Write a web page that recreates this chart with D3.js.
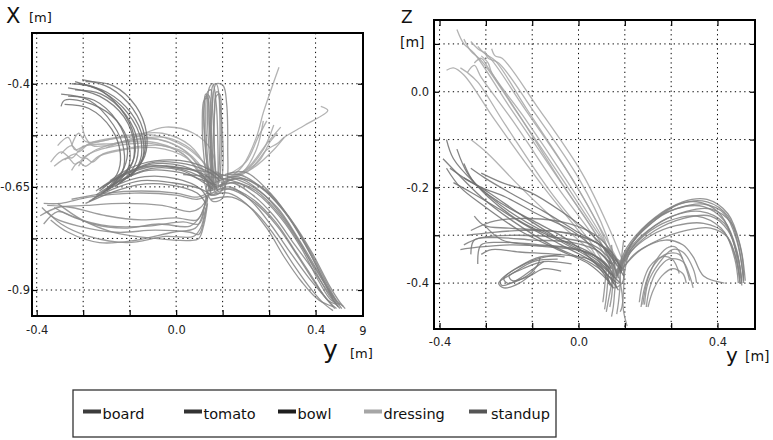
<!DOCTYPE html>
<html>
<head>
<meta charset="utf-8">
<script src="https://cdn.jsdelivr.net/npm/d3@7"></script>
<style>
  body { margin: 0; background: #fff; }
  svg { display: block; font-family: "DejaVu Sans", sans-serif; }
  .grid line { stroke: #000; stroke-width: 1; stroke-dasharray: 1.3, 3.4; }
  .axis path { display: none; }
  .axis line { stroke: #000; stroke-width: 1.2; }
  .axis text { font-size: 11.5px; fill: #222; font-family: "DejaVu Sans", sans-serif; }
  .traj { fill: none; stroke-width: 1.3; stroke-linejoin: round; }
</style>
</head>
<body>
<div id="chart"></div>
<script>
//////////////////////////////////////////////////////////////////
////////////////////////////  Data  //////////////////////////////
const categories = ["board", "tomato", "bowl", "dressing", "standup"];
const legendColors = ["#3c3c3c", "#333333", "#1e1e1e", "#a6a6a6", "#555555"];
const lineColors = ["#6e6e6e", "#787878", "#828282", "#a6a6a6", "#8a8a8a"];

// left panel: [y, x] in metres
const yGridXY = [-0.4, -0.2667, -0.1333, 0, 0.1333, 0.2667, 0.4];
const yLabelsXY = ["-0.4", "", "", "0.0", "", "", "0.4"];
const xGridXY = [-0.4, -0.525, -0.65, -0.775, -0.9];
const xLabelsXY = ["-0.4", "", "-0.65", "", "-0.9"];

// right panel: [y, z] in metres
const yGridZY = [-0.4, -0.2667, -0.1333, 0, 0.1333, 0.2667, 0.4];
const yLabelsZY = ["-0.4", "", "", "0.0", "", "", "0.4"];
const zGridZY = [0.1, 0, -0.1, -0.2, -0.3, -0.4];
const zLabelsZY = ["", "0.0", "", "-0.2", "", "-0.4"];

const boardXY = [
  [[-0.31,-0.41],[-0.22,-0.43],[-0.15,-0.48],[-0.12,-0.55],[-0.13,-0.60],[-0.19,-0.65]],
  [[-0.29,-0.395],[-0.21,-0.42],[-0.14,-0.47],[-0.10,-0.54],[-0.11,-0.60],[-0.17,-0.645]],
  [[-0.33,-0.455],[-0.32,-0.44],[-0.24,-0.45],[-0.17,-0.49],[-0.135,-0.55],[-0.14,-0.61],[-0.20,-0.66]],
  [[-0.28,-0.40],[-0.20,-0.42],[-0.13,-0.47],[-0.095,-0.535],[-0.10,-0.59],[-0.16,-0.64]],
  [[-0.33,-0.425],[-0.25,-0.44],[-0.18,-0.50],[-0.15,-0.56],[-0.155,-0.615],[-0.21,-0.665]],
  [[-0.30,-0.40],[-0.23,-0.41],[-0.16,-0.46],[-0.12,-0.53],[-0.125,-0.59],[-0.18,-0.64]],
  [[-0.32,-0.45],[-0.25,-0.46],[-0.185,-0.51],[-0.16,-0.57],[-0.17,-0.62],[-0.22,-0.66]],
  [[-0.27,-0.39],[-0.19,-0.41],[-0.125,-0.46],[-0.09,-0.53],[-0.095,-0.58],[-0.14,-0.63]],
  [[-0.31,-0.43],[-0.235,-0.44],[-0.17,-0.49],[-0.14,-0.555],[-0.15,-0.605],[-0.20,-0.655]],
  [[-0.29,-0.415],[-0.215,-0.425],[-0.145,-0.475],[-0.11,-0.545],[-0.12,-0.60],[-0.175,-0.65]],
  [[-0.26,-0.395],[-0.18,-0.405],[-0.115,-0.455],[-0.085,-0.52],[-0.09,-0.575],[-0.13,-0.625]],
];

const tomatoXY = [
  [[-0.23,-0.67],[-0.16,-0.635],[-0.08,-0.61],[0.01,-0.615],[0.08,-0.635],[0.115,-0.645]],
  [[-0.22,-0.655],[-0.15,-0.62],[-0.07,-0.595],[0.02,-0.60],[0.085,-0.63],[0.10,-0.665]],
  [[-0.24,-0.68],[-0.17,-0.645],[-0.09,-0.625],[0.00,-0.63],[0.07,-0.655],[0.09,-0.68]],
  [[-0.20,-0.645],[-0.14,-0.615],[-0.06,-0.59],[0.03,-0.595],[0.095,-0.615],[0.125,-0.635]],
  [[-0.25,-0.685],[-0.18,-0.655],[-0.10,-0.635],[-0.01,-0.64],[0.07,-0.655],[0.10,-0.67]],
  [[-0.215,-0.665],[-0.15,-0.63],[-0.07,-0.605],[0.015,-0.61],[0.08,-0.64],[0.105,-0.655]],
  [[-0.19,-0.635],[-0.12,-0.60],[-0.04,-0.585],[0.04,-0.59],[0.10,-0.61],[0.13,-0.63]],
  [[-0.23,-0.66],[-0.165,-0.625],[-0.085,-0.60],[0.005,-0.605],[0.08,-0.63],[0.11,-0.65]],
  [[-0.26,-0.69],[-0.19,-0.665],[-0.11,-0.645],[-0.02,-0.645],[0.06,-0.665],[0.085,-0.69]],
  [[-0.21,-0.65],[-0.145,-0.62],[-0.065,-0.60],[0.025,-0.605],[0.09,-0.625],[0.12,-0.66]],
];

const bowlXY = [
  [[0.10,-0.655],[0.16,-0.64],[0.22,-0.67],[0.28,-0.72],[0.34,-0.79],[0.40,-0.86],[0.44,-0.91],[0.465,-0.94]],
  [[0.11,-0.64],[0.17,-0.625],[0.24,-0.65],[0.31,-0.71],[0.37,-0.79],[0.42,-0.87],[0.45,-0.915],[0.475,-0.945]],
  [[0.085,-0.675],[0.15,-0.65],[0.21,-0.68],[0.27,-0.74],[0.32,-0.80],[0.38,-0.87],[0.43,-0.92],[0.455,-0.945]],
  [[0.12,-0.625],[0.18,-0.62],[0.25,-0.655],[0.32,-0.72],[0.38,-0.80],[0.43,-0.88],[0.46,-0.925],[0.48,-0.94]],
  [[0.10,-0.67],[0.15,-0.665],[0.20,-0.69],[0.26,-0.75],[0.31,-0.82],[0.36,-0.88],[0.41,-0.925],[0.45,-0.94]],
  [[0.13,-0.64],[0.19,-0.63],[0.26,-0.66],[0.33,-0.73],[0.39,-0.81],[0.44,-0.89],[0.47,-0.93],[0.485,-0.945]],
  [[0.09,-0.66],[0.15,-0.655],[0.22,-0.685],[0.29,-0.745],[0.35,-0.82],[0.40,-0.885],[0.44,-0.93],[0.46,-0.945]],
  [[0.11,-0.655],[0.17,-0.64],[0.23,-0.665],[0.30,-0.725],[0.36,-0.80],[0.41,-0.88],[0.445,-0.925],[0.47,-0.935]],
  [[0.14,-0.62],[0.20,-0.615],[0.27,-0.665],[0.34,-0.745],[0.39,-0.82],[0.43,-0.89],[0.455,-0.93],[0.47,-0.945]],
  [[0.10,-0.68],[0.16,-0.675],[0.22,-0.705],[0.28,-0.765],[0.33,-0.83],[0.38,-0.89],[0.42,-0.93],[0.45,-0.95]],
  [[0.12,-0.65],[0.18,-0.63],[0.24,-0.66],[0.30,-0.715],[0.355,-0.785],[0.40,-0.855],[0.44,-0.915],[0.465,-0.94]],
  [[0.11,-0.665],[0.16,-0.655],[0.22,-0.68],[0.285,-0.735],[0.345,-0.81],[0.395,-0.875],[0.435,-0.925],[0.46,-0.935]],
  [[0.02,-0.62],[0.09,-0.625],[0.16,-0.635],[0.23,-0.66],[0.30,-0.72],[0.36,-0.795],[0.415,-0.87],[0.46,-0.93]],
  [[-0.03,-0.60],[0.06,-0.61],[0.15,-0.625],[0.22,-0.65],[0.29,-0.70],[0.35,-0.775],[0.41,-0.86],[0.45,-0.92]],
];

const dressingXY = [
  [[-0.36,-0.59],[-0.33,-0.565],[-0.30,-0.58],[-0.27,-0.555],[-0.19,-0.535],[-0.08,-0.53],[0.02,-0.56],[0.08,-0.615],[0.105,-0.64]],
  [[-0.33,-0.57],[-0.30,-0.55],[-0.28,-0.565],[-0.25,-0.545],[-0.17,-0.53],[-0.06,-0.525],[0.03,-0.555],[0.09,-0.60],[0.115,-0.625]],
  [[-0.30,-0.55],[-0.28,-0.52],[-0.26,-0.54],[-0.22,-0.54],[-0.14,-0.525],[-0.04,-0.52],[0.04,-0.55],[0.09,-0.61],[0.105,-0.65]],
  [[-0.35,-0.60],[-0.31,-0.58],[-0.29,-0.595],[-0.25,-0.57],[-0.17,-0.55],[-0.07,-0.545],[0.02,-0.57],[0.075,-0.63],[0.09,-0.665]],
  [[-0.27,-0.50],[-0.26,-0.53],[-0.24,-0.55],[-0.20,-0.55],[-0.12,-0.535],[-0.03,-0.53],[0.045,-0.56],[0.095,-0.61],[0.12,-0.64]],
  [[-0.32,-0.585],[-0.29,-0.57],[-0.27,-0.58],[-0.23,-0.56],[-0.15,-0.54],[-0.05,-0.535],[0.03,-0.565],[0.085,-0.62],[0.095,-0.655]],
  [[-0.28,-0.60],[-0.26,-0.58],[-0.24,-0.59],[-0.21,-0.57],[-0.13,-0.555],[-0.04,-0.55],[0.04,-0.575],[0.085,-0.635],[0.10,-0.67]],
  [[-0.20,-0.555],[-0.12,-0.53],[-0.03,-0.505],[0.05,-0.52],[0.10,-0.56],[0.115,-0.62]],
  [[-0.34,-0.55],[-0.31,-0.53],[-0.29,-0.56],[-0.26,-0.55],[-0.18,-0.545],[-0.08,-0.54],[0.01,-0.565],[0.075,-0.62],[0.10,-0.655]],
  [[-0.30,-0.61],[-0.28,-0.59],[-0.26,-0.60],[-0.22,-0.575],[-0.15,-0.56],[-0.06,-0.555],[0.03,-0.58],[0.08,-0.63],[0.11,-0.645]],
  [[0.14,-0.63],[0.19,-0.615],[0.23,-0.56],[0.25,-0.49]],
  [[0.15,-0.625],[0.20,-0.61],[0.25,-0.56],[0.28,-0.50]],
  [[0.16,-0.63],[0.21,-0.60],[0.26,-0.545],[0.30,-0.505]],
  [[0.15,-0.62],[0.20,-0.59],[0.235,-0.53],[0.26,-0.49]],
  [[0.17,-0.625],[0.22,-0.605],[0.28,-0.56],[0.31,-0.53]],
  [[0.15,-0.63],[0.19,-0.60],[0.23,-0.53],[0.25,-0.47],[0.27,-0.42],[0.295,-0.36]],
  [[0.16,-0.625],[0.22,-0.60],[0.26,-0.56],[0.29,-0.545],[0.31,-0.53],[0.37,-0.50],[0.435,-0.465],[0.415,-0.455]],
  [[0.14,-0.635],[0.19,-0.62],[0.24,-0.585],[0.27,-0.54],[0.29,-0.52]],
];

const standupXY = [
  [[0.10,-0.66],[0.09,-0.58],[0.085,-0.48],[0.09,-0.42],[0.10,-0.415],[0.105,-0.47],[0.11,-0.57],[0.115,-0.65]],
  [[0.105,-0.655],[0.095,-0.57],[0.09,-0.47],[0.095,-0.41],[0.105,-0.40],[0.115,-0.45],[0.12,-0.56],[0.12,-0.645]],
  [[0.095,-0.66],[0.08,-0.58],[0.075,-0.49],[0.08,-0.44],[0.09,-0.435],[0.095,-0.49],[0.10,-0.58],[0.105,-0.65]],
  [[0.11,-0.65],[0.10,-0.56],[0.10,-0.46],[0.105,-0.405],[0.115,-0.40],[0.125,-0.44],[0.13,-0.55],[0.125,-0.64]],
  [[0.10,-0.65],[0.085,-0.57],[0.08,-0.45],[0.085,-0.425],[0.095,-0.43],[0.10,-0.50],[0.105,-0.60],[0.11,-0.655]],
  [[0.105,-0.66],[0.10,-0.55],[0.105,-0.44],[0.115,-0.40],[0.135,-0.405],[0.145,-0.45],[0.148,-0.56],[0.145,-0.64],[0.13,-0.66]],
  [[0.11,-0.66],[0.105,-0.58],[0.11,-0.47],[0.115,-0.42],[0.12,-0.42],[0.125,-0.47],[0.125,-0.57],[0.12,-0.65]],
  [[0.095,-0.65],[0.085,-0.56],[0.08,-0.46],[0.085,-0.43],[0.09,-0.43],[0.095,-0.50],[0.10,-0.60],[0.10,-0.66]],
  [[0.115,-0.655],[0.11,-0.57],[0.11,-0.47],[0.115,-0.43],[0.125,-0.425],[0.13,-0.48],[0.135,-0.58],[0.13,-0.65]],
  [[0.08,-0.64],[0.09,-0.62],[0.12,-0.615],[0.135,-0.635],[0.125,-0.665],[0.10,-0.67],[0.085,-0.655],[0.095,-0.635]],
  [[0.11,-0.62],[0.13,-0.625],[0.14,-0.65],[0.13,-0.68],[0.105,-0.685],[0.09,-0.665],[0.10,-0.64]],
  [[-0.385,-0.70],[-0.35,-0.725],[-0.28,-0.745],[-0.17,-0.76],[-0.06,-0.755],[0.04,-0.76],[0.065,-0.765],[0.08,-0.73],[0.09,-0.68]],
  [[-0.37,-0.71],[-0.33,-0.74],[-0.25,-0.77],[-0.14,-0.785],[-0.03,-0.77],[0.05,-0.77],[0.07,-0.75],[0.085,-0.70]],
  [[-0.38,-0.69],[-0.33,-0.69],[-0.25,-0.675],[-0.12,-0.665],[0.00,-0.67],[0.06,-0.68],[0.09,-0.67]],
  [[-0.36,-0.73],[-0.31,-0.76],[-0.22,-0.785],[-0.12,-0.78],[-0.01,-0.76],[0.055,-0.75],[0.075,-0.72],[0.085,-0.675]],
  [[-0.39,-0.72],[-0.34,-0.70],[-0.26,-0.695],[-0.15,-0.69],[-0.04,-0.695],[0.04,-0.71],[0.07,-0.70],[0.09,-0.675]],
  [[-0.37,-0.695],[-0.30,-0.70],[-0.20,-0.72],[-0.10,-0.73],[0.00,-0.725],[0.06,-0.73],[0.08,-0.70],[0.095,-0.665]],
  [[-0.35,-0.70],[-0.29,-0.725],[-0.19,-0.745],[-0.08,-0.745],[0.02,-0.735],[0.065,-0.74],[0.08,-0.71]],
  [[-0.38,-0.74],[-0.34,-0.71],[-0.30,-0.72],[-0.24,-0.74],[-0.15,-0.75],[-0.05,-0.74],[0.04,-0.745],[0.07,-0.72],[0.085,-0.685]],
  [[-0.34,-0.69],[-0.27,-0.73],[-0.18,-0.76],[-0.06,-0.775],[0.04,-0.78],[0.065,-0.775],[0.08,-0.74],[0.09,-0.69]],
  [[-0.30,-0.68],[-0.20,-0.665],[-0.10,-0.66],[0.00,-0.665],[0.06,-0.675],[0.09,-0.665]],
];

const boardZY = [
  [[-0.38,-0.10],[-0.36,-0.14],[-0.30,-0.19],[-0.20,-0.25],[-0.08,-0.30],[0.03,-0.335],[0.09,-0.37]],
  [[-0.37,-0.16],[-0.33,-0.18],[-0.26,-0.21],[-0.16,-0.26],[-0.05,-0.31],[0.05,-0.35],[0.10,-0.385]],
  [[-0.35,-0.12],[-0.32,-0.17],[-0.26,-0.22],[-0.17,-0.27],[-0.06,-0.31],[0.05,-0.355],[0.12,-0.40]],
  [[-0.33,-0.15],[-0.30,-0.19],[-0.23,-0.23],[-0.13,-0.27],[-0.03,-0.31],[0.05,-0.36],[0.10,-0.41]],
  [[-0.38,-0.16],[-0.34,-0.20],[-0.27,-0.24],[-0.17,-0.29],[-0.06,-0.33],[0.03,-0.36],[0.085,-0.395]],
  [[-0.31,-0.16],[-0.27,-0.18],[-0.20,-0.21],[-0.10,-0.25],[-0.01,-0.29],[0.08,-0.33],[0.125,-0.37]],
  [[-0.36,-0.19],[-0.31,-0.21],[-0.24,-0.24],[-0.15,-0.28],[-0.05,-0.32],[0.06,-0.365],[0.115,-0.415]],
  [[-0.33,-0.18],[-0.28,-0.20],[-0.21,-0.22],[-0.12,-0.255],[-0.02,-0.29],[0.05,-0.33],[0.095,-0.36]],
  [[-0.39,-0.14],[-0.35,-0.17],[-0.28,-0.22],[-0.19,-0.27],[-0.08,-0.32],[0.04,-0.36],[0.11,-0.40]],
  [[-0.28,-0.17],[-0.22,-0.19],[-0.14,-0.21],[-0.05,-0.25],[0.04,-0.30],[0.095,-0.345],[0.13,-0.385]],
];

const tomatoZY = [
  [[-0.33,-0.32],[-0.28,-0.305],[-0.18,-0.30],[-0.06,-0.305],[0.04,-0.32],[0.09,-0.35],[0.115,-0.39]],
  [[-0.31,-0.34],[-0.30,-0.31],[-0.24,-0.305],[-0.13,-0.31],[-0.02,-0.315],[0.06,-0.335],[0.095,-0.37]],
  [[-0.29,-0.36],[-0.28,-0.32],[-0.22,-0.315],[-0.11,-0.32],[0.00,-0.33],[0.07,-0.355],[0.10,-0.40]],
  [[-0.32,-0.30],[-0.26,-0.295],[-0.16,-0.29],[-0.04,-0.295],[0.05,-0.315],[0.10,-0.34],[0.125,-0.375]],
  [[-0.30,-0.26],[-0.27,-0.28],[-0.20,-0.285],[-0.10,-0.29],[0.00,-0.30],[0.07,-0.325],[0.105,-0.36]],
  [[-0.34,-0.33],[-0.29,-0.325],[-0.19,-0.32],[-0.08,-0.325],[0.02,-0.335],[0.08,-0.36],[0.11,-0.41]],
  [[-0.28,-0.34],[-0.25,-0.33],[-0.17,-0.335],[-0.06,-0.34],[0.03,-0.35],[0.075,-0.375],[0.09,-0.405]],
  [[-0.31,-0.29],[-0.24,-0.27],[-0.14,-0.265],[-0.03,-0.275],[0.05,-0.30],[0.095,-0.335],[0.12,-0.37]],
  [[-0.27,-0.28],[-0.22,-0.31],[-0.14,-0.32],[-0.04,-0.325],[0.04,-0.34],[0.085,-0.365],[0.105,-0.39]],
  [[-0.05,-0.34],[-0.12,-0.35],[-0.18,-0.37],[-0.225,-0.395],[-0.22,-0.405],[-0.18,-0.395],[-0.13,-0.37],[-0.10,-0.355]],
  [[-0.04,-0.345],[-0.11,-0.345],[-0.17,-0.365],[-0.215,-0.39],[-0.205,-0.40],[-0.16,-0.39],[-0.12,-0.365],[-0.11,-0.345]],
  [[-0.06,-0.35],[-0.13,-0.355],[-0.19,-0.38],[-0.23,-0.40],[-0.215,-0.41],[-0.17,-0.40],[-0.125,-0.375]],
  [[-0.02,-0.36],[-0.10,-0.355],[-0.16,-0.37],[-0.20,-0.385],[-0.19,-0.395],[-0.14,-0.385],[-0.10,-0.37],[-0.05,-0.375]],
];

const bowlZY = [
  [[0.11,-0.38],[0.14,-0.33],[0.20,-0.28],[0.28,-0.245],[0.36,-0.24],[0.42,-0.27],[0.455,-0.33],[0.47,-0.40]],
  [[0.115,-0.375],[0.15,-0.32],[0.21,-0.275],[0.29,-0.235],[0.37,-0.23],[0.43,-0.26],[0.46,-0.32],[0.475,-0.395]],
  [[0.11,-0.385],[0.14,-0.34],[0.19,-0.30],[0.26,-0.27],[0.34,-0.26],[0.41,-0.285],[0.45,-0.34],[0.465,-0.40]],
  [[0.12,-0.37],[0.16,-0.31],[0.22,-0.265],[0.30,-0.23],[0.37,-0.225],[0.43,-0.255],[0.465,-0.32],[0.48,-0.395]],
  [[0.11,-0.38],[0.145,-0.33],[0.20,-0.29],[0.27,-0.26],[0.35,-0.25],[0.42,-0.275],[0.455,-0.335],[0.47,-0.395]],
  [[0.115,-0.38],[0.15,-0.335],[0.21,-0.30],[0.28,-0.28],[0.36,-0.275],[0.42,-0.295],[0.45,-0.35],[0.46,-0.40]],
  [[0.11,-0.375],[0.14,-0.325],[0.20,-0.275],[0.27,-0.24],[0.34,-0.23],[0.40,-0.25],[0.44,-0.30],[0.465,-0.39]],
  [[0.12,-0.38],[0.155,-0.33],[0.22,-0.29],[0.30,-0.265],[0.38,-0.26],[0.43,-0.29],[0.46,-0.35],[0.47,-0.405]],
  [[0.11,-0.385],[0.15,-0.33],[0.22,-0.28],[0.31,-0.25],[0.38,-0.245],[0.44,-0.275],[0.47,-0.34],[0.475,-0.40]],
  [[0.115,-0.38],[0.15,-0.32],[0.21,-0.27],[0.28,-0.245],[0.36,-0.235],[0.42,-0.255],[0.455,-0.31],[0.475,-0.39]],
  [[0.12,-0.38],[0.16,-0.34],[0.23,-0.31],[0.31,-0.29],[0.38,-0.285],[0.43,-0.305],[0.455,-0.355],[0.465,-0.40]],
  [[0.12,-0.375],[0.18,-0.33],[0.25,-0.31],[0.30,-0.32],[0.33,-0.345],[0.36,-0.385],[0.42,-0.40]],
];

const dressingZY = [
  [[-0.35,0.13],[-0.33,0.10],[-0.30,0.08],[-0.20,-0.03],[-0.05,-0.19],[0.06,-0.31],[0.10,-0.37]],
  [[-0.31,0.105],[-0.29,0.09],[-0.26,0.075],[-0.16,-0.03],[-0.02,-0.18],[0.07,-0.295],[0.115,-0.355]],
  [[-0.27,0.085],[-0.26,0.07],[-0.23,0.06],[-0.13,-0.04],[0.00,-0.18],[0.08,-0.30],[0.11,-0.38]],
  [[-0.38,0.045],[-0.36,0.05],[-0.33,0.035],[-0.24,-0.06],[-0.10,-0.20],[0.03,-0.32],[0.085,-0.39]],
  [[-0.32,0.04],[-0.30,0.055],[-0.28,0.03],[-0.19,-0.06],[-0.06,-0.20],[0.05,-0.31],[0.10,-0.375]],
  [[-0.33,0.11],[-0.31,0.085],[-0.28,0.065],[-0.18,-0.04],[-0.04,-0.19],[0.06,-0.30],[0.12,-0.36]],
  [[-0.29,0.095],[-0.27,0.08],[-0.24,0.065],[-0.15,-0.035],[-0.02,-0.18],[0.07,-0.30],[0.105,-0.39]],
  [[-0.30,0.06],[-0.28,0.07],[-0.26,0.05],[-0.17,-0.05],[-0.04,-0.20],[0.06,-0.31],[0.095,-0.36]],
  [[-0.34,0.05],[-0.32,0.04],[-0.29,0.02],[-0.21,-0.07],[-0.08,-0.21],[0.04,-0.32],[0.09,-0.38]],
  [[-0.31,-0.10],[-0.26,-0.13],[-0.18,-0.19],[-0.08,-0.26],[0.03,-0.33],[0.08,-0.37]],
  [[-0.28,0.075],[-0.26,0.06],[-0.25,0.04],[-0.16,-0.05],[-0.03,-0.19],[0.065,-0.30],[0.11,-0.365]],
  [[-0.25,0.09],[-0.24,0.075],[-0.22,0.07],[-0.12,-0.03],[0.01,-0.17],[0.085,-0.28],[0.125,-0.35]],
];

const standupZY = [
  [[0.18,-0.45],[0.19,-0.41],[0.21,-0.37],[0.25,-0.34],[0.29,-0.34],[0.31,-0.37],[0.32,-0.395]],
  [[0.19,-0.445],[0.20,-0.40],[0.23,-0.36],[0.27,-0.33],[0.30,-0.335],[0.33,-0.37],[0.34,-0.40]],
  [[0.175,-0.44],[0.185,-0.40],[0.205,-0.365],[0.24,-0.345],[0.27,-0.35],[0.29,-0.38]],
  [[0.195,-0.45],[0.205,-0.41],[0.225,-0.375],[0.26,-0.35],[0.30,-0.355],[0.32,-0.385],[0.33,-0.41]],
  [[0.185,-0.445],[0.20,-0.39],[0.23,-0.345],[0.26,-0.325],[0.28,-0.325],[0.30,-0.35]],
  [[0.20,-0.45],[0.215,-0.415],[0.24,-0.385],[0.27,-0.37],[0.30,-0.38],[0.31,-0.40]],
  [[0.10,-0.36],[0.095,-0.40],[0.085,-0.44],[0.08,-0.46]],
  [[0.11,-0.37],[0.105,-0.41],[0.10,-0.45],[0.095,-0.47]],
  [[0.12,-0.36],[0.12,-0.40],[0.115,-0.44],[0.11,-0.465]],
  [[0.09,-0.35],[0.085,-0.39],[0.08,-0.43],[0.075,-0.455]],
  [[0.13,-0.37],[0.13,-0.41],[0.125,-0.45],[0.12,-0.46]],
  [[0.105,-0.35],[0.10,-0.39],[0.095,-0.43],[0.09,-0.45]],
  [[0.115,-0.38],[0.125,-0.42],[0.13,-0.46],[0.14,-0.49]],
  [[0.08,-0.37],[0.075,-0.41],[0.07,-0.44]],
  [[0.11,-0.39],[0.10,-0.35],[0.095,-0.32]],
  [[0.12,-0.38],[0.125,-0.34],[0.13,-0.31]],
  [[0.105,-0.385],[0.09,-0.35],[0.075,-0.33]],
  [[0.13,-0.39],[0.14,-0.35],[0.15,-0.33]],
  [[0.09,-0.37],[0.11,-0.35],[0.13,-0.37],[0.125,-0.40],[0.10,-0.41],[0.085,-0.39]],
];

//////////////////////////////////////////////////////////////////
////////////////////////////  Setup  /////////////////////////////
const width = 773;
const height = 440;

const svg = d3
  .select("#chart")
  .append("svg")
  .attr("width", width)
  .attr("height", height);

const panels = [
  {
    id: "xy",
    box: { left: 32, top: 33, right: 363, bottom: 316 },
    hDomain: [-0.4135, 0.536],
    vDomain: [-0.963, -0.277],
    hGrid: yGridXY, hLabels: yLabelsXY,
    vGrid: xGridXY, vLabels: xLabelsXY,
    leftPad: 2, bottomPad: 10, topTicks: false,
    series: [boardXY, tomatoXY, bowlXY, dressingXY, standupXY],
  },
  {
    id: "zy",
    box: { left: 434, top: 20, right: 755, bottom: 329 },
    hDomain: [-0.416, 0.508],
    vDomain: [-0.496, 0.15],
    hGrid: yGridZY, hLabels: yLabelsZY,
    vGrid: zGridZY, vLabels: zLabelsZY,
    leftPad: 5, bottomPad: 9, topTicks: true,
    series: [boardZY, tomatoZY, bowlZY, dressingZY, standupZY],
  },
];

panels.forEach((p) => {
  const b = p.box;
  const sx = d3.scaleLinear().domain(p.hDomain).range([b.left, b.right]);
  const sy = d3.scaleLinear().domain(p.vDomain).range([b.bottom, b.top]);

  svg.append("clipPath").attr("id", "clip-" + p.id)
    .append("rect")
    .attr("x", b.left).attr("y", b.top)
    .attr("width", b.right - b.left).attr("height", b.bottom - b.top);

  // grid
  const grid = svg.append("g").attr("class", "grid");
  grid.selectAll(".gv").data(p.hGrid).enter().append("line")
    .attr("x1", (d) => sx(d)).attr("x2", (d) => sx(d))
    .attr("y1", b.top).attr("y2", b.bottom);
  grid.selectAll(".gh").data(p.vGrid).enter().append("line")
    .attr("x1", b.left).attr("x2", b.right)
    .attr("y1", (d) => sy(d)).attr("y2", (d) => sy(d));

  // trajectories
  const line = d3.line()
    .x((d) => sx(d[0]))
    .y((d) => sy(d[1]))
    .curve(d3.curveCatmullRom.alpha(0.5));

  const tg = svg.append("g").attr("clip-path", `url(#clip-${p.id})`);
  // light ones first so the darker bundles sit on top
  [3, 4, 2, 1, 0].forEach((ci) => {
    tg.selectAll(".t" + ci)
      .data(p.series[ci])
      .enter()
      .append("path")
      .attr("class", "traj")
      .attr("d", line)
      .attr("stroke", lineColors[ci])
      .attr("stroke-opacity", 0.85);
  });

  // axes (inner ticks)
  const fmt = (arr, grid) => (d) => arr[grid.indexOf(d)];
  svg.append("g").attr("class", "axis")
    .attr("transform", `translate(0,${b.bottom})`)
    .call(d3.axisBottom(sx).tickValues(p.hGrid).tickSize(-6)
      .tickPadding(p.bottomPad).tickFormat(fmt(p.hLabels, p.hGrid)));
  svg.append("g").attr("class", "axis")
    .attr("transform", `translate(${b.left},0)`)
    .call(d3.axisLeft(sy).tickValues(p.vGrid).tickSize(-5)
      .tickPadding(p.leftPad).tickFormat(fmt(p.vLabels, p.vGrid)));
  svg.append("g").attr("class", "axis")
    .attr("transform", `translate(${b.right},0)`)
    .call(d3.axisRight(sy).tickValues(p.vGrid).tickSize(-5).tickFormat(""));
  if (p.topTicks) {
    svg.append("g").attr("class", "axis")
      .attr("transform", `translate(0,${b.top})`)
      .call(d3.axisTop(sx).tickValues(p.hGrid).tickSize(-6).tickFormat(""));
  }

  // frame
  svg.append("rect")
    .attr("x", b.left).attr("y", b.top)
    .attr("width", b.right - b.left).attr("height", b.bottom - b.top)
    .attr("fill", "none").attr("stroke", "#000").attr("stroke-width", 2);
});

//////////////////////////////////////////////////////////////////
////////////////////////////  Titles  ////////////////////////////
const addText = (x, y, size, txt) =>
  svg.append("text").attr("x", x).attr("y", y)
    .attr("font-size", size).attr("fill", "#111").text(txt);

addText(6, 23, 21, "X");
addText(29, 22, 13, "[m]");
addText(323, 358, 25, "y");
addText(350, 358, 13, "[m]");
svg.append("text").attr("x", 363).attr("y", 335).attr("text-anchor", "middle")
  .attr("font-size", 11.5).attr("fill", "#222").text("9");

addText(401, 23, 17, "Z");
addText(400, 47, 14, "[m]");
addText(726, 362, 20, "y");
addText(745, 361, 14, "[m]");

//////////////////////////////////////////////////////////////////
////////////////////////////  Legend  ////////////////////////////
const legendX = [83, 184, 278, 364, 469];
const legendGap = [1.5, 1.5, 1.5, 1.5, 4];

svg.append("rect")
  .attr("x", 73).attr("y", 390)
  .attr("width", 483).attr("height", 47)
  .attr("fill", "#fff").attr("stroke", "#333").attr("stroke-width", 1.3);

const items = svg.selectAll(".legend-item")
  .data(categories)
  .enter()
  .append("g")
  .attr("transform", (d, i) => `translate(${legendX[i]},0)`);

items.append("rect")
  .attr("x", 0).attr("y", 409.5)
  .attr("width", 18).attr("height", 4)
  .attr("fill", (d, i) => legendColors[i]);

items.append("text")
  .attr("x", (d, i) => 18 + legendGap[i])
  .attr("y", 419)
  .attr("font-size", 14.5)
  .attr("fill", "#111")
  .text((d) => d);
</script>
</body>
</html>
